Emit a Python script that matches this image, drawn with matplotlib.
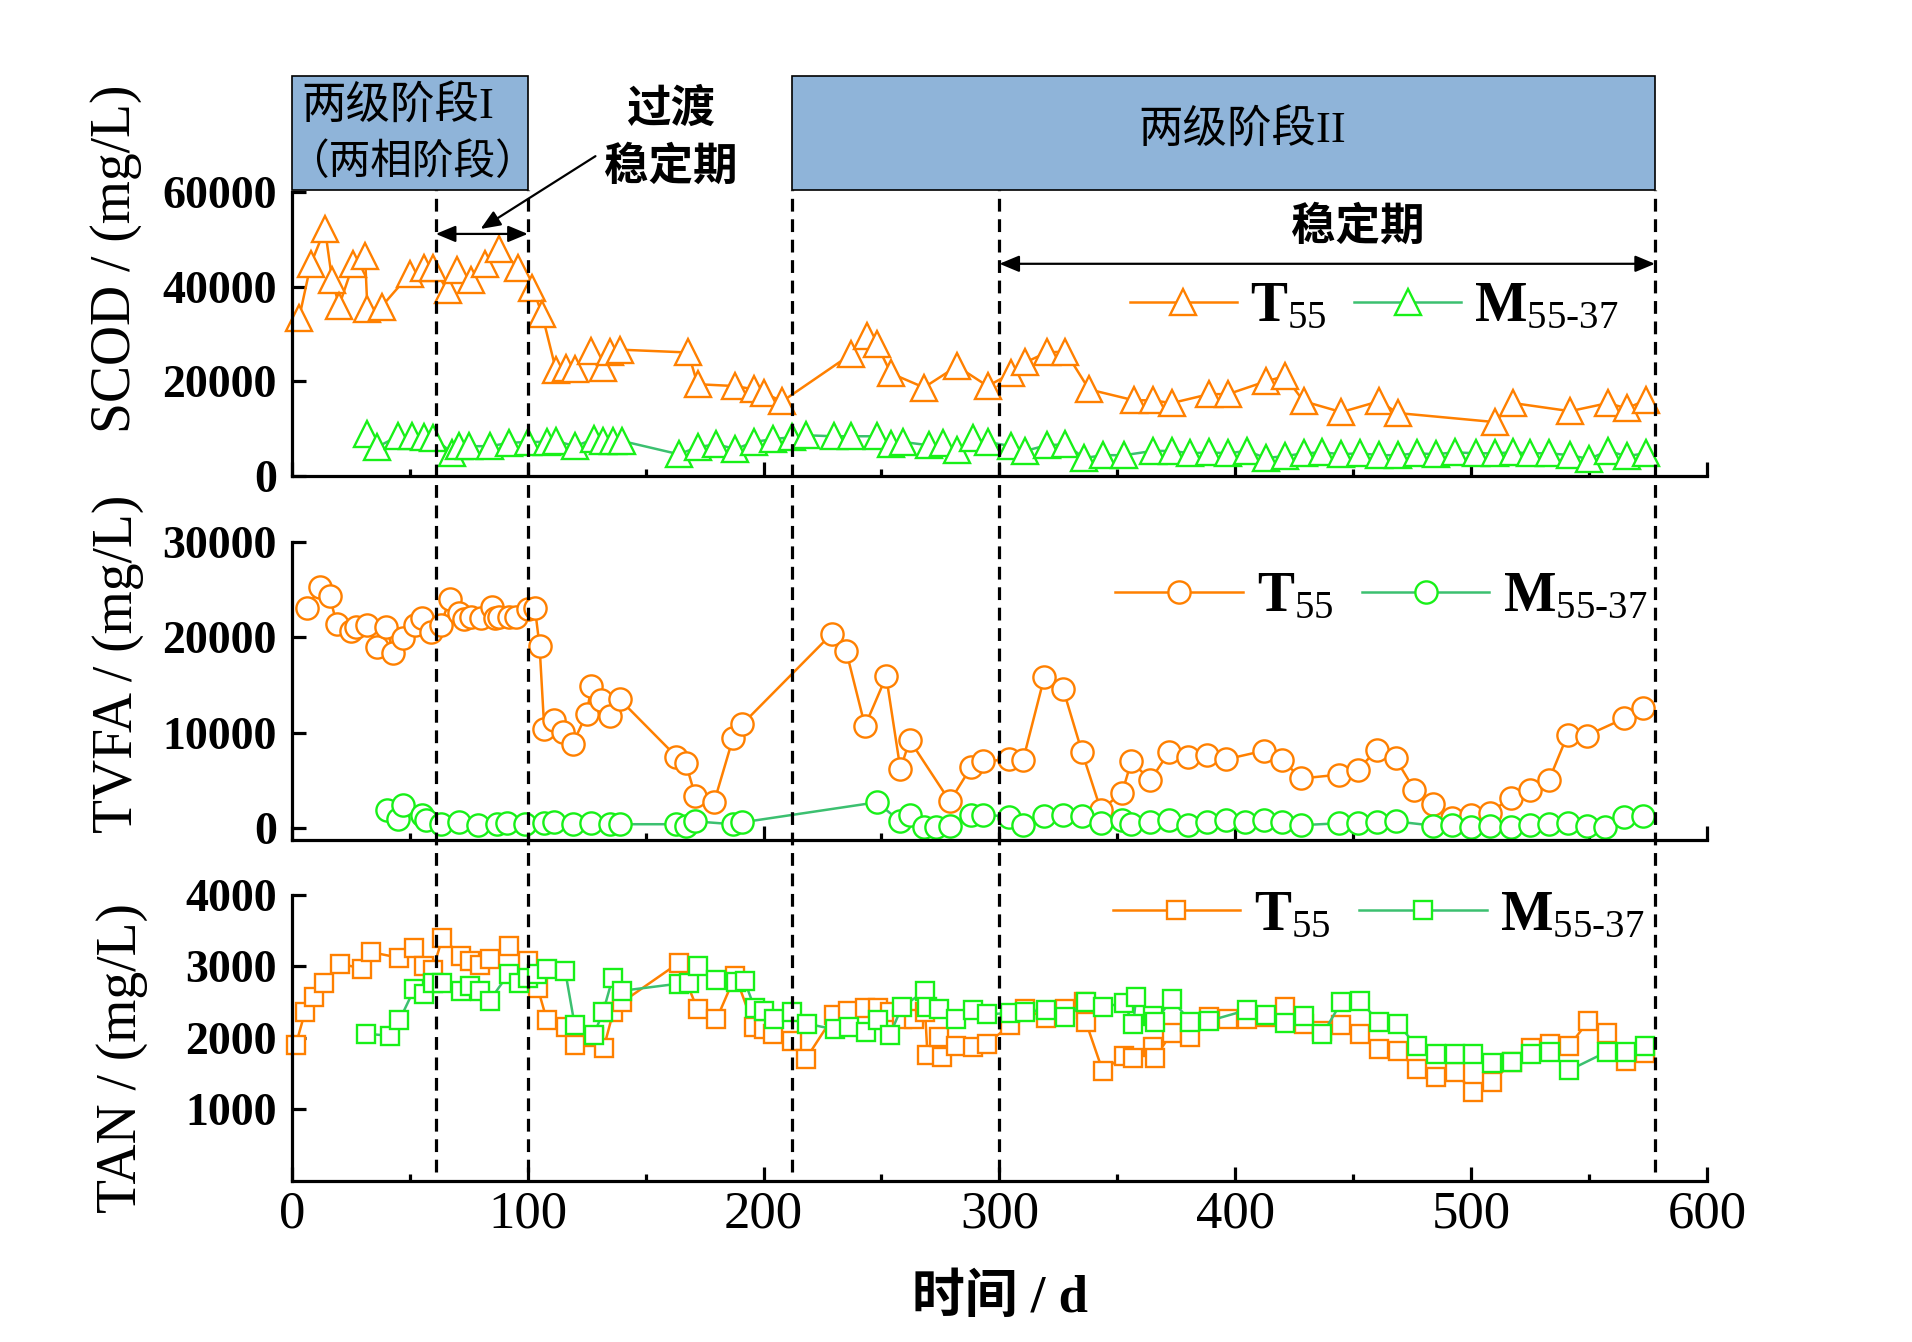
import matplotlib
matplotlib.use('Agg')
import matplotlib.pyplot as plt
from matplotlib.transforms import blended_transform_factory
from matplotlib.patches import Rectangle
from matplotlib.lines import Line2D

plt.rcParams['font.family'] = ['Liberation Serif', 'Noto Sans CJK SC']
plt.rcParams['mathtext.fontset'] = 'custom'
plt.rcParams['mathtext.rm'] = 'Liberation Serif'
plt.rcParams['mathtext.bf'] = 'Liberation Serif:bold'
plt.rcParams['mathtext.it'] = 'Liberation Serif:italic'

# ---------------- data ----------------
scod_t_day = [3, 8, 14, 17, 20, 26, 31, 32, 38, 50, 56, 60, 66, 70, 76, 82, 88, 96, 102, 106,
              112, 116, 120, 127, 132, 135, 139, 168, 172, 188, 196, 200, 208, 237, 244, 248,
              254, 268, 282, 295, 305, 311, 320, 328, 338, 357, 365, 373, 389, 397, 413, 421,
              429, 445, 461, 469, 510, 518, 542, 558, 566, 574]
scod_t_val = [33300, 44800, 52200, 41500, 36000, 44800, 46500, 35200, 35800, 42700, 44000, 44000,
              39200, 43600, 41500, 44800, 48000, 44000, 39800, 34300, 22300, 22900, 22700, 26500,
              22900, 26100, 26700, 26100, 19400, 19000, 18300, 17500, 15800, 25700, 29500, 27800,
              21700, 18700, 23200, 19000, 21700, 24000, 26100, 26300, 18300, 16000, 16000, 15400,
              17300, 17300, 20000, 21100, 15800, 13500, 15800, 13300, 11400, 15400, 13700, 15400,
              14300, 16000]

scod_m_day = [32, 36, 45, 51, 56, 60, 68, 71, 75, 84, 92, 100, 108, 112, 120, 128, 132, 136, 140,
              164, 172, 180, 188, 196, 204, 212, 218, 230, 237, 248, 254, 259, 270, 276, 282, 289,
              295, 305, 311, 320, 328, 336, 344, 353, 365, 373, 381, 389, 397, 405, 413, 421, 429,
              437, 445, 453, 461, 469, 477, 485, 493, 502, 510, 518, 525, 533, 542, 550, 558, 566,
              574]
scod_m_val = [8800, 6100, 8400, 8400, 8200, 8000, 4900, 6300, 6300, 6300, 7000, 7200, 7200, 7400,
              6300, 7800, 7400, 7400, 7400, 4600, 6100, 6700, 5700, 7200, 7800, 8200, 8600, 8400,
              8400, 8400, 6700, 7200, 6500, 7000, 5500, 8000, 7200, 6300, 5300, 6500, 6700, 3800,
              4400, 4400, 5300, 5300, 4800, 5000, 4800, 5300, 3800, 4200, 4800, 5000, 4600, 4800,
              4400, 4400, 4800, 4600, 5000, 4800, 4800, 5000, 4800, 4800, 4400, 3600, 5300, 4200,
              4800]

tvfa_t_day = [6.5, 12, 16, 19, 25, 27, 32, 36, 40, 43, 47, 52, 55, 59, 63, 67, 71, 73, 76, 80,
              85, 86, 88, 92, 95, 100, 103, 105, 107, 111, 115, 119, 125, 127, 131, 135, 139, 163,
              167, 171, 179, 187, 191, 229, 235, 243, 252, 258, 262, 279, 288, 293, 304, 310, 319,
              327, 335, 343, 352, 356, 364, 372, 380, 388, 396, 412, 420, 428, 444, 452, 460, 468,
              476, 484, 492, 500, 508, 517, 525, 533, 541, 549, 565, 573]
tvfa_t_val = [23100, 25300, 24300, 21400, 20700, 21100, 21300, 19000, 21100, 18400, 19900, 21300,
              22000, 20600, 21300, 24000, 22600, 21900, 22100, 22000, 23200, 22000, 22100, 22100,
              22100, 23000, 23100, 19100, 10400, 11300, 10100, 8800, 12000, 14900, 13400, 11800,
              13500, 7500, 6800, 3400, 2700, 9400, 10900, 20400, 18600, 10700, 15900, 6200, 9200,
              2800, 6400, 7000, 7200, 7100, 15800, 14600, 8000, 1900, 3700, 7000, 5000, 8000, 7400,
              7700, 7200, 8100, 7100, 5200, 5600, 6100, 8200, 7300, 4000, 2500, 1100, 1400, 1600,
              3200, 4000, 5000, 9800, 9700, 11500, 12600]

tvfa_m_day = [40.5, 45, 47, 55, 57, 63, 71, 79, 87, 91, 99, 107, 111, 119, 127, 135, 139, 163,
              167, 171, 187, 191, 248, 258, 262, 268, 273, 279, 288, 293, 304, 310, 319, 327, 335,
              343, 352, 356, 364, 372, 380, 388, 396, 404, 412, 420, 428, 444, 452, 460, 468, 484,
              492, 500, 508, 517, 525, 533, 541, 549, 557, 565, 573]
tvfa_m_val = [1900, 1000, 2400, 1400, 800, 400, 600, 300, 400, 500, 400, 500, 600, 400, 500, 400,
              400, 400, 250, 700, 400, 600, 2700, 700, 1400, 150, 150, 250, 1400, 1400, 1200, 300,
              1300, 1400, 1300, 500, 800, 400, 600, 800, 300, 600, 800, 600, 800, 600, 300, 500,
              500, 600, 700, 250, 300, 150, 200, 150, 300, 400, 500, 250, 70, 1200, 1300]

tan_t_day = [1.6, 5.5, 9.5, 13.5, 20.5, 29.6, 33.7, 45.6, 51.8, 55.8, 59.7, 63.8, 71.8, 75.6, 79.8,
             83.8, 91.9, 99.9, 104.2, 108.1, 116.2, 119.9, 128.2, 132.2, 136.2, 140, 164, 172, 180,
             188, 196, 200, 204, 212, 218, 230, 236, 243, 248.5, 253.5, 258.6, 263.6, 268.5,
             269.5, 274.5, 275.6, 281.5, 288.6, 294.7, 304.6, 310.8, 319.7, 327.8, 336, 336.7,
             343.8, 352.7, 356.8, 365, 366, 373, 381, 389, 397, 405, 413, 421, 429, 437, 445, 453,
             461, 469, 477, 485, 493, 501, 509, 517.5, 525.4, 533.5, 541.7, 549.8, 557.8, 565.7,
             573.8]
tan_t_val = [1900, 2360, 2580, 2770, 3040, 2970, 3200, 3120, 3260, 3000, 2950, 3400, 3150, 3070,
             3020, 3100, 3290, 3080, 2700, 2250, 2150, 1900, 2020, 1860, 2360, 2500, 3050, 2400,
             2260, 2870, 2150, 2120, 2050, 1960, 1710, 2320, 2380, 2420, 2420, 2370, 2260, 2260,
             2370, 1760, 2010, 1730, 1890, 1870, 1920, 2180, 2400, 2280, 2410, 2500, 2220, 1540,
             1750, 1720, 1870, 1720, 2070, 2010, 2300, 2260, 2260, 2300, 2430, 2190, 2100, 2180,
             2050, 1850, 1820, 1560, 1450, 1520, 1250, 1380, 1670, 1860, 1920, 1890, 2240, 2070,
             1680, 1790]

tan_m_day = [31.4, 41.6, 45.6, 51.8, 55.8, 59.7, 63.8, 71.8, 75.6, 79.8, 83.8, 91.9, 96.1, 99.9,
             103.9, 108.1, 115.9, 119.9, 127.9, 131.9, 136, 140, 164, 168.3, 172.1, 180, 188.1,
             192, 196.2, 200.1, 204.4, 212.2, 218.3, 230.1, 236.2, 243.3, 248.5, 253.5, 258.6,
             268.5, 269.5, 274.4, 281.5, 288.6, 294.7, 304.6, 310.8, 319.7, 327.8, 336.7, 343.8,
             352.7, 356.8, 358, 365, 366, 373, 381, 389, 405, 413, 421, 429, 437, 445, 453, 461,
             469, 477, 485, 493, 501, 509, 517.5, 525.4, 533.5, 541.7, 557.8, 565.7, 573.8]
tan_m_val = [2060, 2030, 2250, 2680, 2610, 2770, 2770, 2650, 2720, 2650, 2520, 2900, 2770, 2840,
             2900, 2970, 2930, 2180, 2040, 2360, 2840, 2660, 2760, 2770, 3010, 2810, 2780, 2790,
             2420, 2380, 2270, 2360, 2200, 2120, 2150, 2090, 2250, 2040, 2430, 2660, 2430, 2400,
             2260, 2390, 2330, 2350, 2370, 2390, 2290, 2500, 2430, 2490, 2200, 2580, 2310, 2220,
             2540, 2230, 2240, 2390, 2320, 2210, 2310, 2050, 2500, 2520, 2220, 2190, 1890, 1780,
             1780, 1780, 1650, 1660, 1780, 1800, 1550, 1810, 1800, 1890]

dash_days = [61, 100, 212, 300, 578]
x_ticks = [0, 100, 200, 300, 400, 500, 600]
scod_ticks = [0, 20000, 40000, 60000]
tvfa_ticks = [0, 10000, 20000, 30000]
tan_ticks = [1000, 2000, 3000, 4000]

lbl_t = r'$\mathbf{T}_{\mathrm{55}}$'
lbl_m = r'$\mathbf{M}_{\mathrm{55\text{-}37}}$'

# ---------------- style ----------------
OR = '#FF8000'
GL = '#3CC070'
GM = '#18F018'
BOX = '#8FB4D9'
LW_AX = 2.3

fig = plt.figure(figsize=(19.12, 13.42), dpi=100)
ax1 = fig.add_axes([0.1527, 0.6453, 0.740, 0.2116])
ax2 = fig.add_axes([0.1527, 0.3741, 0.740, 0.2220])
ax3 = fig.add_axes([0.1527, 0.1200, 0.740, 0.2131])


def style(ax, yticks, ylim, show_x):
    for s in ['top', 'right']:
        ax.spines[s].set_visible(False)
    for s in ['left', 'bottom']:
        ax.spines[s].set_linewidth(LW_AX)
    ax.set_xlim(0, 600)
    ax.set_ylim(*ylim)
    ax.set_xticks(x_ticks)
    ax.set_xticks(range(50, 600, 100), minor=True)
    ax.set_yticks(yticks)
    ax.tick_params(axis='x', which='major', direction='in', length=10, width=LW_AX,
                   labelsize=38, pad=7, labelbottom=show_x)
    ax.tick_params(axis='x', which='minor', direction='in', length=5, width=LW_AX)
    ax.tick_params(axis='y', which='major', direction='in', length=10, width=LW_AX,
                   labelsize=33, pad=11)
    for t in ax.get_yticklabels():
        t.set_fontweight('bold')


def series(ax, xt, yt, xm, ym, mk, ms):
    h1, = ax.plot(xt, yt, '-', color=OR, lw=1.8, marker=mk, ms=ms, mfc='white', mec=OR,
                  mew=1.7, clip_on=False)
    h2, = ax.plot(xm, ym, '-', color=GL, lw=1.8, marker=mk, ms=ms, mfc='white', mec=GM,
                  mew=1.7, clip_on=False)
    return h1, h2


style(ax1, scod_ticks, (0, 60000), False)
style(ax2, tvfa_ticks, (-1250, 30000), False)
style(ax3, tan_ticks, (0, 4000), True)

h = series(ax1, scod_t_day, scod_t_val, scod_m_day, scod_m_val, '^', 19)
ax1.legend(h, [lbl_t, lbl_m], loc='center left', bbox_to_anchor=(0.592, 0.595), ncol=2,
           frameon=False, fontsize=40, handlelength=1.93, handletextpad=0.23,
           columnspacing=0.5, borderpad=0, borderaxespad=0, numpoints=1)
h = series(ax2, tvfa_t_day, tvfa_t_val, tvfa_m_day, tvfa_m_val, 'o', 16)
ax2.legend(h, [lbl_t, lbl_m], loc='center left', bbox_to_anchor=(0.582, 0.815), ncol=2,
           frameon=False, fontsize=40, handlelength=2.29, handletextpad=0.25,
           columnspacing=0.52, borderpad=0, borderaxespad=0, numpoints=1)
h = series(ax3, tan_t_day, tan_t_val, tan_m_day, tan_m_val, 's', 13.5)
ax3.legend(h, [lbl_t, lbl_m], loc='center left', bbox_to_anchor=(0.580, 0.927), ncol=2,
           frameon=False, fontsize=40, handlelength=2.29, handletextpad=0.25,
           columnspacing=0.52, borderpad=0, borderaxespad=0, numpoints=1)

# axis labels
fig.text(0.0607, 1 - 259 / 1342, 'SCOD / (mg/L)', rotation=90, ha='center', va='center',
         fontsize=40)
fig.text(0.0617, 1 - 664 / 1342, 'TVFA / (mg/L)', rotation=90, ha='center', va='center',
         fontsize=40)
fig.text(0.0638, 1 - 1058 / 1342, 'TAN / (mg/L)', rotation=90, ha='center', va='center',
         fontsize=40)
fig.text(0.523, 1 - 1298 / 1342, '时间 / d', ha='center', va='center', fontsize=38,
         fontweight='bold')

# dashed period lines
trd = blended_transform_factory(ax3.transData, fig.transFigure)
for xv in dash_days:
    fig.add_artist(Line2D([xv, xv], [1 - 1172 / 1342, 1 - 190 / 1342], transform=trd,
                          color='k', lw=LW_AX, dashes=(4, 2.4)))

# phase boxes
tb = blended_transform_factory(ax1.transData, ax1.transAxes)
ax1.add_patch(Rectangle((0, 1.007), 100, 0.401, transform=tb, facecolor=BOX,
                        edgecolor='k', lw=1.2, clip_on=False))
ax1.add_patch(Rectangle((212, 1.007), 366, 0.401, transform=tb, facecolor=BOX,
                        edgecolor='k', lw=1.2, clip_on=False))
ax1.text(4, 1.30, '两级阶段I', transform=tb, ha='left', va='center', fontsize=32)
ax1.text(-2.0, 1.10, '（两相阶段）', transform=tb, ha='left', va='center', fontsize=30)
ax1.text(403, 1.218, '两级阶段II', transform=tb, ha='center', va='center', fontsize=32)

ax1.text(160.5, 1.289, '过渡', transform=tb, ha='center', va='center', fontsize=32,
         fontweight='bold')
ax1.text(160.5, 1.085, '稳定期', transform=tb, ha='center', va='center', fontsize=32,
         fontweight='bold')
ax1.text(452, 52400, '稳定期', ha='center', va='center', fontsize=32, fontweight='bold')

ap = dict(arrowstyle='-|>,head_length=0.6,head_width=0.25', color='k', lw=1.6,
          mutation_scale=20, shrinkA=0, shrinkB=0)
ap2 = dict(arrowstyle='<|-|>,head_length=0.6,head_width=0.25', color='k', lw=1.6,
           mutation_scale=20, shrinkA=0, shrinkB=0)
ax1.annotate('', xy=(80, 52200), xytext=(128.7, 67580), arrowprops=ap,
             annotation_clip=False)
ax1.annotate('', xy=(100, 51150), xytext=(61, 51150), arrowprops=ap2, annotation_clip=False)
ax1.annotate('', xy=(578, 44840), xytext=(300, 44840), arrowprops=ap2, annotation_clip=False)

fig.savefig('out.png', dpi=100)
